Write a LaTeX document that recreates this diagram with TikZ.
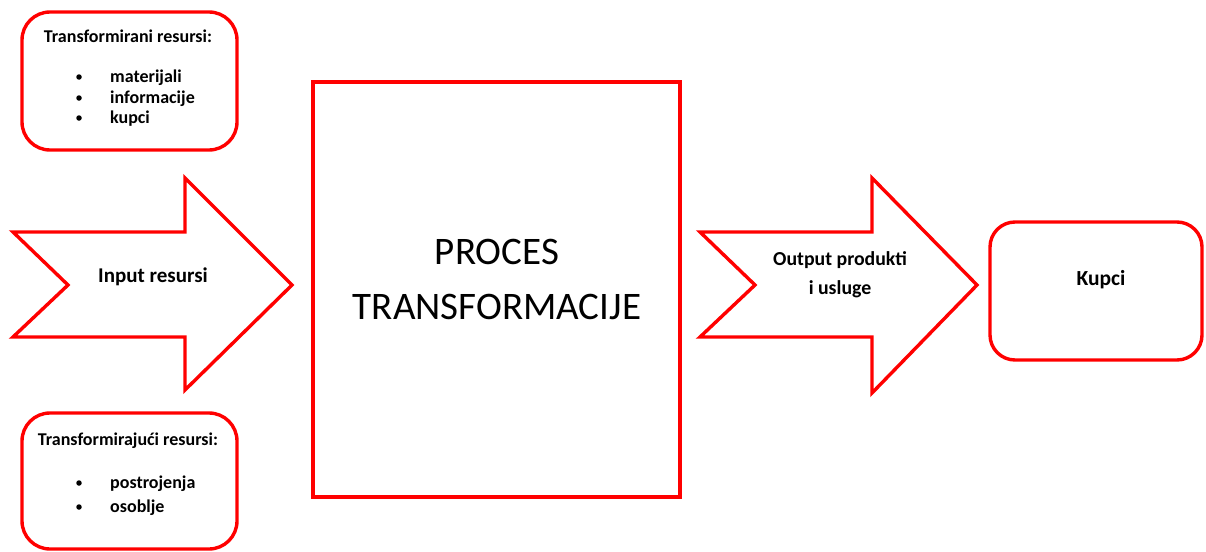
\documentclass[tikz,border=0pt]{standalone}
\usepackage{fontspec}
\setmainfont{Carlito}
\usetikzlibrary{calc}
\usetikzlibrary{shapes}

\begin{document}
\begin{tikzpicture}[x=1pt,y=-1pt,
	redline/.style={draw=red, line width=3.4pt, line join=miter},
	roundbox/.style={redline, rounded corners=28pt, inner sep=0pt},
	lbl/.style={font=\bfseries\fontsize{18}{20}\selectfont, inner sep=0pt},
	biglbl/.style={font=\fontsize{39}{55}\selectfont, align=center, inner sep=0pt},
	dot/.style={circle, fill=black, inner sep=0pt, minimum size=5.5pt}]
\useasboundingbox (0,0) rectangle (1206,551);
\node[roundbox, minimum width=215pt, minimum height=138pt] (trbox) at (129.5,81) {};
\node[roundbox, minimum width=215pt, minimum height=136pt] (tjbox) at (129.5,481) {};
\node[roundbox, rounded corners=25pt, minimum width=212pt, minimum height=138pt] (kbox) at (1096,291) {};
\node[redline, minimum width=367pt, minimum height=415pt] (proc) at (496.5,289.5) {};
\draw[redline] (13,232) -- (185,232) -- (185,178) -- (292,285) -- (185,390) -- (185,337) -- (13,337) -- (68,285) -- cycle;
\draw[redline] (700,232) -- (872,232) -- (872,178) -- (977,285) -- (872,393) -- (872,337) -- (700,337) -- (755,285) -- cycle;
\node[lbl, anchor=base] (trtitle) at (128,43) {Transformirani resursi:};
\foreach \y/\t in {82/materijali, 103/informacije, 123/kupci}{
	\node[dot] (trdot\y) at (79,\y-5) {};
	\node[lbl, anchor=base west] (tritem\y) at (110,\y) {\t};
	}
\node[lbl, anchor=base] (tjtitle) at (128,445) {Transformirajući resursi:};
\foreach \y/\t in {488/postrojenja, 512/osoblje}{
	\node[dot] (tjdot\y) at (79,\y-5) {};
	\node[lbl, anchor=base west] (tjitem\y) at (110,\y) {\t};
	}
\node[lbl, font=\bfseries\fontsize{21}{20}\selectfont, anchor=base] (inlbl) at (153,282) {Input resursi};
\node[lbl, font=\bfseries\fontsize{19.8}{29}\selectfont, align=center] (outlbl) at (840,275) {Output produkti\\i usluge};
\node[lbl, font=\bfseries\fontsize{21.5}{20}\selectfont, anchor=base] (klbl) at (1101,285) {Kupci};
\node[biglbl] (proclbl) at (497,279) {PROCES\\TRANSFORMACIJE};
\end{tikzpicture}
\end{document}
